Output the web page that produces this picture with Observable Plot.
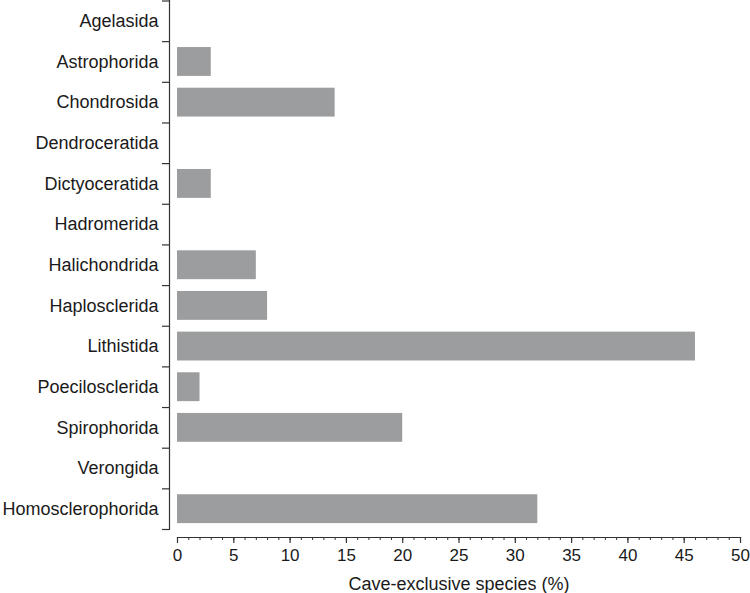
<!DOCTYPE html>
<html>
<head>
<meta charset="utf-8">
<script src="https://cdn.jsdelivr.net/npm/d3@7"></script>
<script src="https://cdn.jsdelivr.net/npm/@observablehq/plot@0.6"></script>
<style>
  html, body { margin: 0; padding: 0; background: #fff; }
  #chart svg { display: block; }
</style>
</head>
<body>
<div id="chart"></div>
<script>
const orders = [
  "Agelasida", "Astrophorida", "Chondrosida", "Dendroceratida", "Dictyoceratida",
  "Hadromerida", "Halichondrida", "Haplosclerida", "Lithistida", "Poecilosclerida",
  "Spirophorida", "Verongida", "Homosclerophorida"
];
const percent = [0, 3, 14, 0, 3, 0, 7, 8, 46, 2, 20, 0, 32];
const majorTicks = [0, 5, 10, 15, 20, 25, 30, 35, 40, 45, 50];
const minorTicks = d3.range(0, 51, 1);
const xLabel = "Cave-exclusive species (%)";

const data = orders.map((o, i) => ({order: o, value: percent[i]}));

const yRange = [0.5, 529];
const step = (yRange[1] - yRange[0]) / orders.length;
const axisColor = "#333";

const chart = Plot.plot({
  width: 750,
  height: 593,
  marginLeft: 169,
  marginRight: 10,
  marginTop: 0,
  marginBottom: 56,
  style: {fontFamily: "'Liberation Sans', Arial, Helvetica, sans-serif", color: "#1a1a1a", background: "#fff"},
  x: {domain: [0, 50], insetLeft: 8, insetRight: 0},
  y: {domain: orders, range: yRange, paddingInner: 0.29, paddingOuter: 0.145, round: false},
  marks: [
    Plot.barX(data, {x: "value", y: "order", fill: "#9b9d9e"}),
    // y axis line
    Plot.frame({anchor: "left", insetBottom: 8, stroke: axisColor, strokeWidth: 1.2}),
    // x axis line
    Plot.frame({anchor: "bottom", insetLeft: 8, stroke: axisColor, strokeWidth: 1.2}),
    // y labels
    Plot.axisY({tickSize: 0, tickPadding: 11, fontSize: 18, label: null, fill: "#1a1a1a"}),
    // band boundary ticks
    Plot.axisY({tickSize: 7, tickFormat: () => "", dy: step / 2, stroke: axisColor, strokeWidth: 1.2, label: null}),
    Plot.axisY({ticks: [orders[0]], tickSize: 7, tickFormat: () => "", dy: -step / 2, stroke: axisColor, strokeWidth: 1.2, label: null}),
    // x axis
    Plot.axisX({ticks: minorTicks, tickSize: 3, tickFormat: () => "", stroke: axisColor, label: null}),
    Plot.axisX({ticks: majorTicks, tickSize: 6, tickPadding: 5, fontSize: 17, stroke: axisColor, strokeWidth: 1.2,
      label: null, fill: "#1a1a1a"}),
    Plot.text([xLabel], {frameAnchor: "bottom", dx: 4, dy: 52, fontSize: 18, fill: "#1a1a1a", lineAnchor: "bottom"})
  ]
});
document.getElementById("chart").appendChild(chart);
</script>
</body>
</html>
